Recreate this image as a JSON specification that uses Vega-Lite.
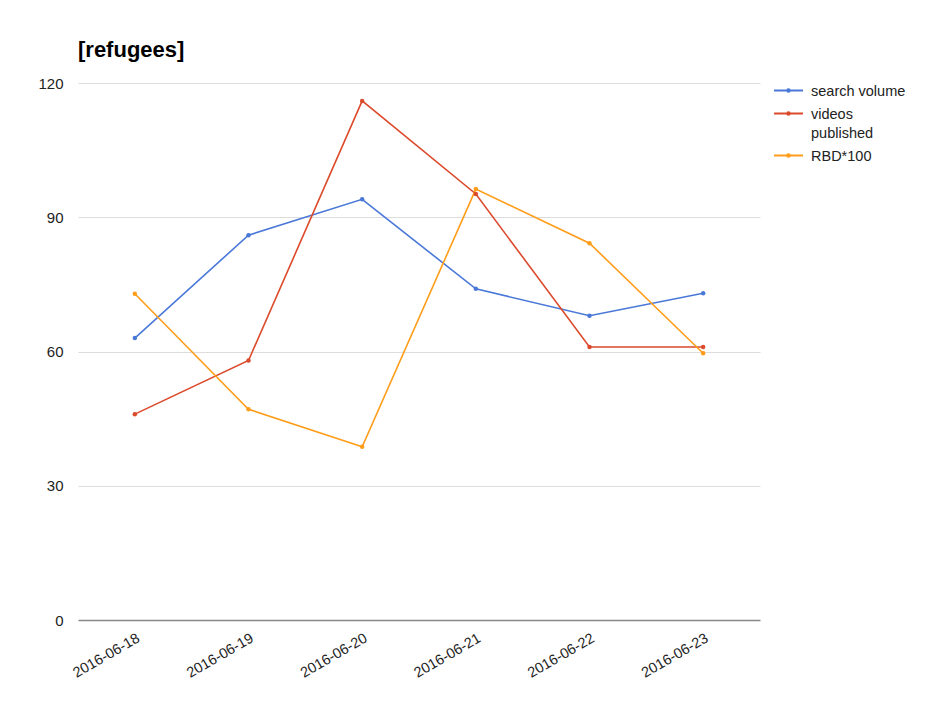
{
  "$schema": "https://vega.github.io/schema/vega-lite/v6.json",
  "autosize": "none",
  "width": 682,
  "height": 537,
  "padding": {"left": 78, "top": 83, "right": 168, "bottom": 82},
  "background": "white",
  "title": {
    "text": "[refugees]",
    "anchor": "start",
    "frame": "group",
    "font": "Liberation Sans",
    "fontSize": 22,
    "fontWeight": "bold",
    "color": "#000000",
    "baseline": "alphabetic",
    "offset": -3
  },
  "config": {
    "font": "Liberation Sans",
    "view": {"stroke": null},
    "style": {"guide-label": {"lineHeight": 19}}
  },
  "data": {
    "values": [
      {"date": "2016-06-18", "series": "search volume", "value": 63},
      {"date": "2016-06-19", "series": "search volume", "value": 86},
      {"date": "2016-06-20", "series": "search volume", "value": 94},
      {"date": "2016-06-21", "series": "search volume", "value": 74},
      {"date": "2016-06-22", "series": "search volume", "value": 68},
      {"date": "2016-06-23", "series": "search volume", "value": 73},
      {"date": "2016-06-18", "series": "videos published", "value": 46},
      {"date": "2016-06-19", "series": "videos published", "value": 58},
      {"date": "2016-06-20", "series": "videos published", "value": 116},
      {"date": "2016-06-21", "series": "videos published", "value": 95.2},
      {"date": "2016-06-22", "series": "videos published", "value": 61},
      {"date": "2016-06-23", "series": "videos published", "value": 61},
      {"date": "2016-06-18", "series": "RBD*100", "value": 72.9},
      {"date": "2016-06-19", "series": "RBD*100", "value": 47.1},
      {"date": "2016-06-20", "series": "RBD*100", "value": 38.7},
      {"date": "2016-06-21", "series": "RBD*100", "value": 96.3},
      {"date": "2016-06-22", "series": "RBD*100", "value": 84.2},
      {"date": "2016-06-23", "series": "RBD*100", "value": 59.6}
    ]
  },
  "encoding": {
    "x": {
      "field": "date",
      "type": "ordinal",
      "scale": {"type": "point", "padding": 0.5},
      "axis": {
        "title": null,
        "labelAngle": -30,
        "labelAlign": "right",
        "labelBaseline": "top",
        "labelFontSize": 14.5,
        "labelColor": "#222222",
        "labelPadding": 11,
        "ticks": false,
        "domain": false,
        "grid": false
      }
    },
    "y": {
      "field": "value",
      "type": "quantitative",
      "scale": {"domain": [0, 120], "nice": false},
      "axis": {
        "title": null,
        "values": [0, 30, 60, 90, 120],
        "labelFontSize": 15,
        "labelColor": "#222222",
        "labelPadding": 15,
        "ticks": false,
        "domain": false,
        "gridColor": {"condition": {"test": "datum.value === 0", "value": "#888888"}, "value": "#dddddd"},
        "gridWidth": {"condition": {"test": "datum.value === 0", "value": 1.5}, "value": 1}
      }
    },
    "color": {
      "field": "series",
      "type": "nominal",
      "scale": {
        "domain": ["search volume", "videos published", "RBD*100"],
        "range": ["#4a78d8", "#dc4a2c", "#ff9d1a"]
      },
      "legend": {
        "title": null,
        "orient": "right",
        "offset": 16,
        "padding": 4,
        "labelFontSize": 14.5,
        "labelColor": "#222222",
        "labelExpr": "datum.label == 'videos published' ? ['videos', 'published'] : datum.label",
        "labelLimit": 200,
        "labelBaseline": "alphabetic",
        "symbolType": "M-2,-0.7L2,-0.7M-0.17,-0.7A0.17,0.17,0,1,1,0.17,-0.7A0.17,0.17,0,1,1,-0.17,-0.7Z",
        "symbolSize": 210,
        "symbolStrokeWidth": 2,
        "rowPadding": 8,
        "labelOffset": 14
      }
    }
  },
  "layer": [
    {"mark": {"type": "line", "strokeWidth": 1.6}},
    {"mark": {"type": "circle", "size": 20, "opacity": 1}}
  ]
}
